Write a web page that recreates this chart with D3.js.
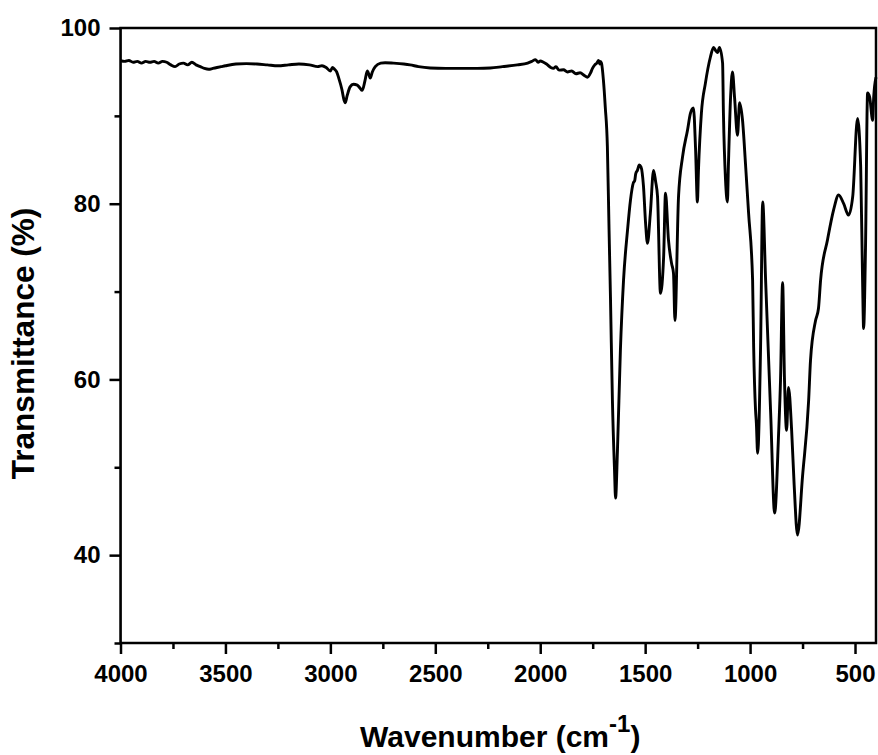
<!DOCTYPE html>
<html>
<head>
<meta charset="utf-8">
<script src="https://cdn.jsdelivr.net/npm/d3@7"></script>
<style>
  body { margin: 0; background: #fff; }
  text { font-family: "Liberation Sans", Arial, sans-serif; font-weight: bold; fill: #000; }
</style>
</head>
<body>
<div class="chart"></div>
<script>
"use strict";
// FTIR spectrum
const wavenumber = [
  4000, 3980, 3960, 3940, 3920, 3900, 3880, 3860, 3840, 3820, 3800, 3780, 3760, 3740, 3720,
  3700, 3680, 3660, 3640, 3620, 3600, 3580, 3560, 3540, 3520, 3500, 3450, 3400, 3350, 3300,
  3250, 3200, 3150, 3100, 3060, 3040, 3020, 3000, 2990, 2980, 2970, 2960, 2945, 2935, 2929,
  2920, 2906, 2890, 2872, 2860, 2848, 2835, 2824, 2815, 2810, 2800, 2786, 2760, 2739, 2700,
  2650, 2620, 2580, 2524, 2450, 2380, 2300, 2238, 2180, 2109, 2060, 2040, 2023, 2010, 1999,
  1985, 1970, 1950, 1937, 1925, 1910, 1889, 1870, 1850, 1830, 1810, 1790, 1775, 1760, 1751,
  1740, 1730, 1722, 1716, 1713, 1708, 1699, 1690, 1680, 1672, 1665, 1656, 1646, 1641, 1632,
  1618, 1603, 1584, 1570, 1556, 1550, 1545, 1537, 1528, 1520, 1508, 1498, 1489, 1475, 1460,
  1450, 1441, 1427, 1412, 1403, 1389, 1374, 1365, 1358, 1341, 1322, 1298, 1284, 1270, 1260,
  1251, 1246, 1232, 1213, 1189, 1174, 1163, 1155, 1146, 1131, 1127, 1117, 1108, 1103, 1093,
  1084, 1074, 1060, 1050, 1036, 1022, 1007, 988, 983, 974, 970, 964, 950, 940, 926,
  902, 883, 864, 855, 845, 836, 826, 817, 802, 790, 774, 750, 721, 712, 688,
  674, 664, 631, 602, 578, 554, 531, 511, 488, 473, 464, 459, 450, 440, 430,
  416, 411, 400
];
const transmittance = [
  96.3, 96.2, 96.3, 96.1, 96.2, 96.0, 96.2, 96.1, 96.2, 96.0, 96.2, 96.1, 95.8, 95.6, 95.9,
  96.0, 95.8, 96.1, 95.8, 95.6, 95.4, 95.3, 95.4, 95.5, 95.6, 95.7, 95.9, 95.95, 95.9, 95.8,
  95.7, 95.8, 95.9, 95.8, 95.6, 95.7, 95.5, 95.1, 95.5, 95.3, 95.0, 94.3, 93.0, 91.8, 91.5,
  92.3, 93.3, 93.6, 93.5, 93.2, 92.9, 94.0, 95.1, 94.6, 94.3, 95.0, 95.6, 96.0, 96.05, 96.0,
  95.9, 95.8, 95.6, 95.45, 95.4, 95.4, 95.4, 95.45, 95.6, 95.8, 96.0, 96.2, 96.4, 96.1, 96.25,
  96.1, 95.9, 95.5, 95.4, 95.6, 95.2, 95.25, 95.0, 95.1, 94.8, 94.9, 94.6, 94.4, 94.9, 95.4,
  95.8, 96.0, 96.3, 95.9, 96.2, 96.0, 94.1, 91.0, 86.5, 77.0, 69.0, 57.6, 49.7, 46.5, 51.9,
  63.3, 71.3, 77.0, 80.4, 82.4, 82.6, 83.4, 83.8, 84.4, 84.2, 82.0, 77.8, 75.5, 79.0, 83.8,
  82.5, 80.8, 69.8, 73.9, 81.2, 75.9, 73.2, 72.1, 66.7, 80.8, 85.3, 88.4, 90.3, 90.9, 86.4,
  80.2, 83.8, 90.3, 93.7, 96.7, 97.8, 97.4, 97.2, 97.8, 96.0, 90.3, 82.7, 80.2, 84.6, 92.1,
  95.0, 92.1, 87.8, 91.5, 89.5, 84.6, 78.9, 71.3, 63.7, 56.5, 55.0, 51.6, 63.7, 80.2, 71.3,
  56.2, 44.8, 53.9, 59.9, 71.0, 59.9, 54.2, 59.1, 54.2, 48.0, 42.3, 49.0, 57.6, 62.2, 66.7,
  68.1, 71.3, 75.9, 79.3, 81.0, 80.0, 78.7, 80.8, 89.7, 84.2, 71.3, 65.8, 75.0, 92.6, 92.1,
  89.5, 92.1, 94.4
];
const xTicks = [4000, 3500, 3000, 2500, 2000, 1500, 1000, 500];
const xMinorTicks = [3750, 3250, 2750, 2250, 1750, 1250, 750];
const yTicks = [40, 60, 80, 100];
const yMinorTicks = [30, 50, 70, 90];

const margin = {top: 28, right: 2, bottom: 112, left: 120.5};
const W = 878, H = 755;
const width = W - margin.left - margin.right;
const height = H - margin.top - margin.bottom;

const svg = d3.select(".chart").append("svg")
    .attr("width", W)
    .attr("height", H)
    .append("g")
    .attr("transform", "translate(" + margin.left + "," + margin.top + ")");

const x = d3.scaleLinear().domain([4000, 400]).range([0, width]);
const y = d3.scaleLinear().domain([30, 100]).range([height, 0]);

// minor ticks first, no labels
svg.append("g")
    .attr("transform", "translate(0," + height + ")")
    .call(d3.axisBottom(x).tickValues(xMinorTicks).tickSize(6).tickFormat(""))
    .call(g => g.select(".domain").remove());
svg.append("g")
    .call(d3.axisLeft(y).tickValues(yMinorTicks).tickSize(6).tickFormat(""))
    .call(g => g.select(".domain").remove());

const xAxis = svg.append("g")
    .attr("transform", "translate(0," + height + ")")
    .call(d3.axisBottom(x).tickValues(xTicks).tickFormat(d3.format("d"))
        .tickSize(11).tickPadding(11).tickSizeOuter(0));
const yAxis = svg.append("g")
    .call(d3.axisLeft(y).tickValues(yTicks).tickFormat(d3.format("d"))
        .tickSize(11).tickPadding(9).tickSizeOuter(0));

[xAxis, yAxis].forEach(g => {
    g.selectAll("text").style("font-size", "24px").style("font-family", "'Liberation Sans', Arial, sans-serif").style("font-weight", "bold");
});
svg.selectAll(".tick line").attr("stroke-width", 2.5);

// frame
svg.append("rect")
    .attr("width", width)
    .attr("height", height)
    .attr("fill", "none")
    .attr("stroke", "#000")
    .attr("stroke-width", 2.5);

const data = wavenumber.map((w, i) => [w, transmittance[i]]);
svg.append("path")
    .datum(data)
    .attr("fill", "none")
    .attr("stroke", "#000")
    .attr("stroke-width", 2.9)
    .attr("stroke-linejoin", "round")
    .attr("d", d3.line().x(d => x(d[0])).y(d => y(d[1])).curve(d3.curveMonotoneX));

// axis titles
svg.append("text")
    .attr("transform", "translate(-87," + (height / 2 + 8) + ") rotate(-90)")
    .attr("text-anchor", "middle")
    .style("font-size", "31.5px")
    .text("Transmittance (%)");

const xt = svg.append("text")
    .attr("x", width / 2 + 2)
    .attr("y", height + 104)
    .attr("text-anchor", "middle")
    .style("font-size", "30px");
xt.append("tspan").text("Wavenumber (cm");
xt.append("tspan").attr("dy", -15).style("font-size", "24px").text("-1");
xt.append("tspan").attr("dy", 15).text(")");
</script>
</body>
</html>
